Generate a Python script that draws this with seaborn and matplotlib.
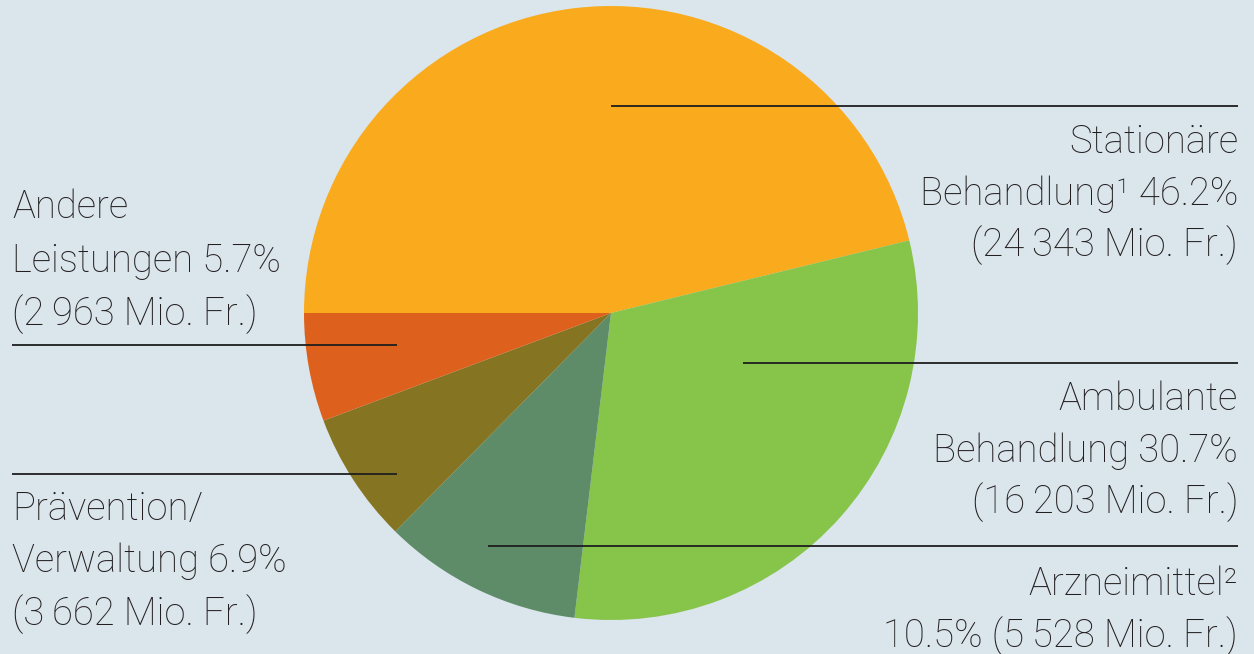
import matplotlib
matplotlib.use("Agg")
import matplotlib.pyplot as plt
import seaborn as sns

# Gesundheitskosten nach Leistung
categories = [
    "Stationäre Behandlung",
    "Ambulante Behandlung",
    "Arzneimittel",
    "Prävention/Verwaltung",
    "Andere Leistungen",
]
shares = [46.2, 30.7, 10.5, 6.9, 5.7]
amounts = [24343, 16203, 5528, 3662, 2963]
colors = ["#F9AB1D", "#86C44A", "#5F8C68", "#857523", "#DD611C"]

label_lines = [
    ["Stationäre", "Behandlung¹ 46.2%", "(24\u2009343 Mio. Fr.)"],
    ["Ambulante", "Behandlung 30.7%", "(16\u2009203 Mio. Fr.)"],
    ["Arzneimittel²", "10.5% (5\u2009528 Mio. Fr.)"],
    ["Prävention/", "Verwaltung 6.9%", "(3\u2009662 Mio. Fr.)"],
    ["Andere", "Leistungen 5.7%", "(2\u2009963 Mio. Fr.)"],
]

W, H = 1254, 654
BG = "#DAE5EC"

sns.set_style("white")
plt.rcParams["font.family"] = ["Roboto", "DejaVu Sans"]

fig = plt.figure(figsize=(W / 100, H / 100), dpi=100, facecolor=BG)
ax = fig.add_axes([0, 0, 1, 1])
ax.set_facecolor(BG)
ax.set_xlim(0, W)
ax.set_ylim(0, H)
ax.set_aspect("equal")
ax.axis("off")

# Kuchen (Mitte und Radius in Pixeln, y von unten)
ax.pie(
    shares,
    colors=colors,
    startangle=180,
    counterclock=False,
    center=(611, H - 313),
    radius=307,
    wedgeprops=dict(linewidth=0),
    frame=True,
)
ax.set_xlim(0, W)
ax.set_ylim(0, H)
ax.axis("off")

# Hinweislinien: (x0, x1, y), Textseite, Grundlinien der Zeilen
leaders = [
    (611, 1238, 106, "right", [153, 205, 256]),
    (743, 1238, 363, "right", [410, 462, 513]),
    (488, 1238, 546, "right", [595, 647]),
    (12, 397, 474, "left", [520, 572, 625]),
    (12, 397, 345, "left", [218, 272, 325]),
]

for lines, (x0, x1, y, side, bases) in zip(label_lines, leaders):
    ax.plot([x0, x1], [H - y, H - y], color="#1E1E1E", lw=1.3, solid_capstyle="butt")
    tx = x1 if side == "right" else x0
    for line, b in zip(lines, bases):
        ax.text(
            tx, H - b, line,
            ha=side, va="baseline",
            fontsize=27.5, fontweight="light", color="#231F20",
        )

fig.savefig("out.png", dpi=100, facecolor=BG)
